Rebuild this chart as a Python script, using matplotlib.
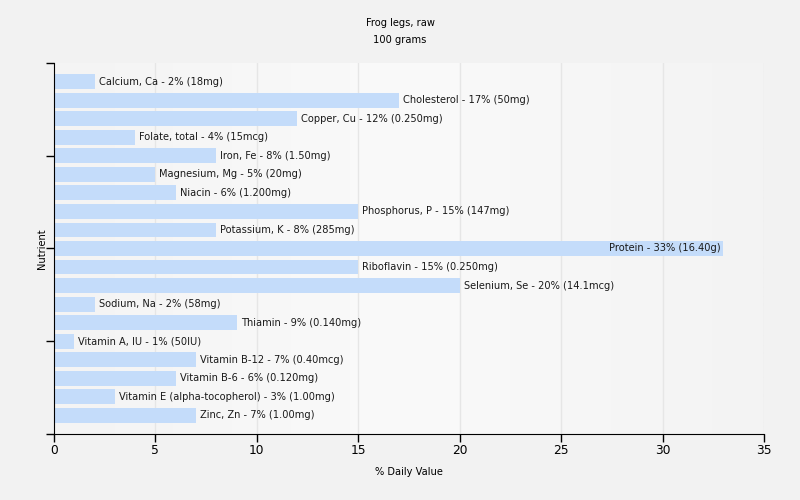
import matplotlib
matplotlib.use('Agg')
import matplotlib.pyplot as plt
import numpy as np

nutrients = ['Calcium, Ca', 'Cholesterol', 'Copper, Cu', 'Folate, total', 'Iron, Fe',
             'Magnesium, Mg', 'Niacin', 'Phosphorus, P', 'Potassium, K', 'Protein',
             'Riboflavin', 'Selenium, Se', 'Sodium, Na', 'Thiamin', 'Vitamin A, IU',
             'Vitamin B-12', 'Vitamin B-6', 'Vitamin E (alpha-tocopherol)', 'Zinc, Zn']
pct = [2, 17, 12, 4, 8, 5, 6, 15, 8, 33, 15, 20, 2, 9, 1, 7, 6, 3, 7]
amounts = ['18mg', '50mg', '0.250mg', '15mcg', '1.50mg', '20mg', '1.200mg', '147mg',
           '285mg', '16.40g', '0.250mg', '14.1mcg', '58mg', '0.140mg', '50IU',
           '0.40mcg', '0.120mg', '1.00mg', '1.00mg']

BG = '#f2f2f2'
BAR = '#c4dcfa'
FS = 7.1

plt.rcParams['font.family'] = ['DejaVu Sans']

fig = plt.figure(figsize=(8, 5), dpi=100, facecolor=BG)
ax = fig.add_axes([0.0675, 0.132, 0.8875, 0.742])
ax.set_facecolor(BG)

y = np.arange(len(nutrients))
ax.set_xlim(0, 35)
ax.set_ylim(19, -1)

# light gradient background in the plot area
grad = np.linspace(0, 1, 256).reshape(1, -1)
cmap = matplotlib.colors.LinearSegmentedColormap.from_list('bg', ['#f4f4f4', '#fafafa', '#f3f3f3'])
ax.imshow(grad, extent=[0, 35, 19, -1], aspect='auto', cmap=cmap, zorder=0)

for xv in range(5, 36, 5):
    ax.axvline(xv, color='#e6e6e6', lw=1, zorder=1)

ax.barh(y, pct, height=0.8, color=BAR, zorder=2)

for i, (n, p, a) in enumerate(zip(nutrients, pct, amounts)):
    label = f'{n} - {p}% ({a})'
    if p >= 30:
        ax.text(p - 0.15, i, label, ha='right', va='center', fontsize=FS, color='#1a1a1a', zorder=3)
    else:
        ax.text(p + 0.2, i, label, ha='left', va='center', fontsize=FS, color='#1a1a1a', zorder=3)

ax.set_xticks(range(0, 36, 5))
ax.set_yticks([-1, 4, 9, 14, 19])
ax.set_yticklabels([])
ax.tick_params(axis='both', length=6, width=1, color='black', labelsize=8.8, pad=1.5)
for s in ['top', 'right']:
    ax.spines[s].set_visible(False)

ax.set_xlabel('% Daily Value', fontsize=FS, labelpad=7)
ax.set_ylabel('Nutrient', fontsize=FS)
ax.yaxis.set_label_coords(-0.01, 0.5)
fig.text(0.5, 1 - 23 / 500, 'Frog legs, raw', ha='center', va='center', fontsize=FS)
fig.text(0.5, 1 - 40 / 500, '100 grams', ha='center', va='center', fontsize=FS)

fig.savefig('out.png', dpi=100, facecolor=BG)
